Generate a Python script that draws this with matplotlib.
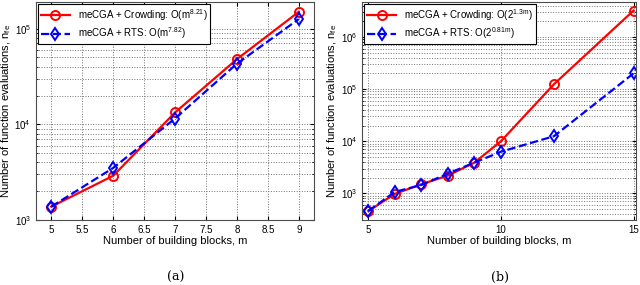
import matplotlib
matplotlib.use("Agg")
import matplotlib.pyplot as plt
from matplotlib.ticker import LogLocator, NullFormatter

plt.rcParams['font.family'] = ['Liberation Sans', 'DejaVu Sans']
plt.rcParams['mathtext.fontset'] = 'custom'
plt.rcParams['mathtext.rm'] = 'Liberation Sans'
plt.rcParams['mathtext.it'] = 'Liberation Sans'

# panel (a): polynomial scaling
m_a = [5, 6, 7, 8, 9]
crowd_a = [1.38e3, 2.9e3, 1.33e4, 4.8e4, 1.5e5]
rts_a = [1.38e3, 3.5e3, 1.15e4, 4.3e4, 1.26e5]
xticks_a = [5, 5.5, 6, 6.5, 7, 7.5, 8, 8.5, 9]

# panel (b): exponential scaling
m_b = [5, 6, 7, 8, 9, 10, 12, 15]
crowd_b = [460, 980, 1.5e3, 2.2e3, 3.9e3, 1.0e4, 1.24e5, 3.2e6]
rts_b = [460, 1.07e3, 1.45e3, 2.4e3, 3.9e3, 6.3e3, 1.25e4, 2.0e5]
xticks_b = [5, 10, 15]

labels_a = ['meCGA + Crowding: O(m$^{8.21}$)', 'meCGA + RTS: O(m$^{7.82}$)']
labels_b = ['meCGA + Crowding: O(2$^{1.3m}$)', 'meCGA + RTS: O(2$^{0.81m}$)']

fig = plt.figure(figsize=(6.4, 2.85), dpi=100)
ax1 = fig.add_axes([0.056, 0.228, 0.435, 0.765])
ax2 = fig.add_axes([0.566, 0.228, 0.428, 0.765])


def draw(ax, m, crowd, rts, labels, xticks, xlim, ylim):
    ax.semilogy(m, crowd, '-o', color='red', lw=1.6, ms=6.5, mfc='none', mew=1.4, label=labels[0])
    ax.semilogy(m, rts, '--d', color='blue', lw=1.6, ms=6.5, mfc='none', mew=1.4, label=labels[1])
    ax.set_xlim(xlim)
    ax.set_ylim(ylim)
    ax.set_xticks(xticks)
    ax.set_xticklabels([('%g' % t) for t in xticks])
    ax.yaxis.set_major_locator(LogLocator(base=10))
    ax.yaxis.set_minor_locator(LogLocator(base=10, subs=range(2, 10)))
    ax.yaxis.set_minor_formatter(NullFormatter())
    ax.grid(True, which='major', ls=':', color='0.45', lw=0.7)
    ax.grid(True, which='minor', axis='y', ls=':', color='0.45', lw=0.7)
    ax.tick_params(direction='in', labelsize=7, length=3, which='both', top=True, right=True)
    ax.tick_params(which='minor', length=1.5)
    ax.set_xlabel('Number of building blocks, m', fontsize=8, labelpad=1)
    ax.set_ylabel('Number of function evaluations, n$_{fe}$', fontsize=8, labelpad=1)
    for s in ax.spines.values():
        s.set_color('0.3')
        s.set_linewidth(0.8)
    leg = ax.legend(loc='upper left', fontsize=7, fancybox=False, framealpha=1,
                    edgecolor='black', borderaxespad=0.2, handlelength=3,
                    borderpad=0.3, labelspacing=0.3)
    leg.get_frame().set_linewidth(0.8)


draw(ax1, m_a, crowd_a, rts_a, labels_a, xticks_a, (4.75, 9.25), (1e3, 1.9e5))
draw(ax2, m_b, crowd_b, rts_b, labels_b, xticks_b, (4.77, 15.1), (10**2.49, 10**6.67))

fig.text(0.274, 0.015, '(a)', ha='center', fontsize=9, family='DejaVu Serif')
fig.text(0.781, 0.015, '(b)', ha='center', fontsize=9, family='DejaVu Serif')

fig.savefig('out.png', dpi=100)
